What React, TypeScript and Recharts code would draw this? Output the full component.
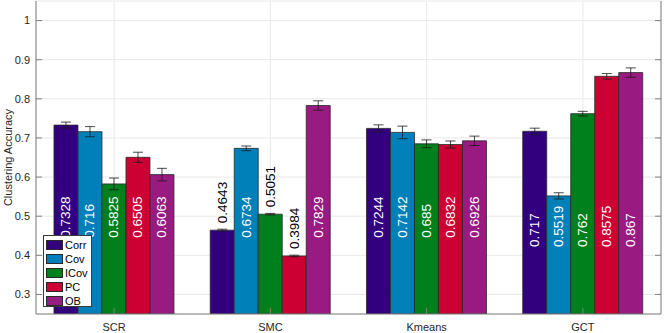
import React from 'react';
import { BarChart, Bar, XAxis, YAxis, CartesianGrid, ErrorBar, LabelList, Label } from 'recharts';

const categories = ['SCR', 'SMC', 'Kmeans', 'GCT'];
const seriesNames = ['Corr', 'Cov', 'ICov', 'PC', 'OB'];
const seriesKeys = ['corr', 'cov', 'icov', 'pc', 'ob'];
const seriesColors = ['#32007f', '#0080b8', '#00801c', '#cc0033', '#991a80'];

const corrValues = [0.7328, 0.4643, 0.7244, 0.717];
const covValues = [0.716, 0.6734, 0.7142, 0.5519];
const icovValues = [0.5825, 0.5051, 0.685, 0.762];
const pcValues = [0.6505, 0.3984, 0.6832, 0.8575];
const obValues = [0.6063, 0.7829, 0.6926, 0.867];

const corrErrors = [0.0077, 0.0025, 0.009, 0.008];
const covErrors = [0.013, 0.006, 0.016, 0.008];
const icovErrors = [0.015, 0.002, 0.01, 0.006];
const pcErrors = [0.013, 0.002, 0.009, 0.007];
const obErrors = [0.016, 0.012, 0.012, 0.012];

const yTicks = [0.3, 0.4, 0.5, 0.6, 0.7, 0.8, 0.9, 1];
const yDomain = [0.25, 1.05];

const allValues = [corrValues, covValues, icovValues, pcValues, obValues];
const allErrors = [corrErrors, covErrors, icovErrors, pcErrors, obErrors];

const data = categories.map((c, i) => {
  const row: any = { name: c };
  seriesKeys.forEach((k, s) => {
    row[k] = allValues[s][i];
    row[k + 'Err'] = allErrors[s][i];
  });
  return row;
});

const FONT = '"Liberation Sans", Arial, Helvetica, sans-serif';
const TXT = '#262626';

const LeftTick = (props: any) => {
  const { x, y, payload } = props;
  const v = payload.value;
  const lbl = v === 1 ? '1' : v.toFixed(1);
  return (
    <g>
      <line x1={x + 6} y1={y} x2={x + 12} y2={y} stroke="#808080" strokeWidth={1} />
      <text x={x} y={y} dy="0.35em" textAnchor="end" fontSize={11} fontFamily={FONT} fill={TXT}>
        {lbl}
      </text>
    </g>
  );
};

const RightTick = (props: any) => {
  const { x, y } = props;
  return <line x1={x - 6} y1={y} x2={x} y2={y} stroke="#808080" strokeWidth={1} />;
};

const BottomTick = (props: any) => {
  const { x, y, payload } = props;
  return (
    <g>
      <line x1={x} y1={y} x2={x} y2={y - 6} stroke="#808080" strokeWidth={1} />
      <text x={x} y={y + 17} textAnchor="middle" fontSize={11} fontFamily={FONT} fill={TXT}>
        {payload.value}
      </text>
    </g>
  );
};

const TopTick = (props: any) => {
  const { x, y } = props;
  return <line x1={x} y1={y} x2={x} y2={y + 6} stroke="#808080" strokeWidth={1} />;
};

const makeLabel = () => (props: any) => {
  const vb = props.viewBox || {};
  const x = props.x ?? vb.x;
  const y = props.y ?? vb.y;
  const width = props.width ?? vb.width;
  const height = props.height ?? vb.height;
  const value = Number(props.value);
  const index = props.index;
  const cx = x + width / 2;
  const txt = String(value);
  if (value < 0.52) {
    const sy = y - 7;
    return (
      <text
        x={cx}
        y={sy}
        transform={`rotate(-90, ${cx}, ${sy})`}
        textAnchor="start"
        dominantBaseline="central"
        fontSize={13.5}
        fontFamily={FONT}
        fill="#000"
      >
        {txt}
      </text>
    );
  }
  const bottom = y + height;
  const ppu = height / (value - yDomain[0]);
  const base = categories[index] === 'GCT' ? 0.421 : 0.445;
  const sy = bottom - (base - yDomain[0]) * ppu;
  return (
    <text
      x={cx}
      y={sy}
      transform={`rotate(-90, ${cx}, ${sy})`}
      textAnchor="start"
      dominantBaseline="central"
      fontSize={13.5}
      fontFamily={FONT}
      fill="#fff"
    >
      {txt}
    </text>
  );
};

const YLabel = (props: any) => {
  const vb = props.viewBox || {};
  const cx = 8;
  const cy = (vb.y ?? 1) + (vb.height ?? 313) / 2;
  return (
    <text
      x={cx}
      y={cy}
      transform={`rotate(-90, ${cx}, ${cy})`}
      textAnchor="middle"
      dominantBaseline="central"
      fontSize={11}
      fontFamily={FONT}
      fill={TXT}
    >
      Clustering Accuracy
    </text>
  );
};

export default function App() {
  return (
    <div style={{ position: 'absolute', left: 0, top: 0, width: 664, height: 333, background: '#fff' }}>
      <BarChart
        width={664}
        height={333}
        data={data}
        margin={{ top: 1, right: 0, left: 0, bottom: 0 }}
        barGap={0}
        barCategoryGap="11.5%"
      >
        <CartesianGrid stroke="#e8e8e8" strokeWidth={1} />
        <XAxis
          dataKey="name"
          xAxisId={0}
          height={19}
          tickSize={0}
          tickMargin={0}
          tick={<BottomTick />}
          tickLine={false}
          axisLine={{ stroke: '#808080', strokeWidth: 1 }}
          interval={0}
        />
        <XAxis
          dataKey="name"
          xAxisId="top"
          orientation="top"
          height={0}
          tickSize={0}
          tickMargin={0}
          tick={<TopTick />}
          tickLine={false}
          axisLine={{ stroke: '#808080', strokeWidth: 1 }}
          interval={0}
        />
        <YAxis
          yAxisId={0}
          width={36}
          domain={yDomain}
          ticks={yTicks}
          type="number"
          tickSize={0}
          tickMargin={6}
          tickLine={false}
          tick={<LeftTick />}
          axisLine={{ stroke: '#808080', strokeWidth: 1 }}
          allowDataOverflow
        >
          <Label content={<YLabel />} />
        </YAxis>
        <YAxis
          yAxisId="right"
          orientation="right"
          width={3}
          domain={yDomain}
          ticks={yTicks}
          type="number"
          tickSize={0}
          tickMargin={0}
          tickLine={false}
          tick={<RightTick />}
          axisLine={{ stroke: '#808080', strokeWidth: 1 }}
          allowDataOverflow
        />
        {seriesKeys.map((k, s) => (
          <Bar
            key={k}
            dataKey={k}
            name={seriesNames[s]}
            fill={seriesColors[s]}
            stroke="#2a2a2a"
            strokeWidth={0.8}
            isAnimationActive={false}
          >
            <ErrorBar
              dataKey={k + 'Err'}
              width={5}
              stroke="#1a1a1a"
              strokeWidth={0.8}
              direction="y"
              isAnimationActive={false}
            />
            <LabelList dataKey={k} content={makeLabel()} />
          </Bar>
        ))}
      </BarChart>
      <div
        style={{
          position: 'absolute',
          left: 43,
          top: 235,
          width: 49,
          height: 72,
          border: '1px solid #3a3a3a',
          background: '#fff',
          boxSizing: 'border-box',
          fontFamily: FONT,
          fontSize: 11,
          color: '#000',
        }}
      >
        {seriesNames.map((n, s) => (
          <div
            key={n}
            style={{ position: 'absolute', left: 2, top: 3 + s * 14, height: 12, display: 'flex', alignItems: 'center' }}
          >
            <div
              style={{
                width: 17,
                height: 10,
                background: seriesColors[s],
                border: '1px solid #2a2a2a',
                boxSizing: 'border-box',
              }}
            />
            <span style={{ marginLeft: 2, lineHeight: '12px' }}>{n}</span>
          </div>
        ))}
      </div>
    </div>
  );
}
